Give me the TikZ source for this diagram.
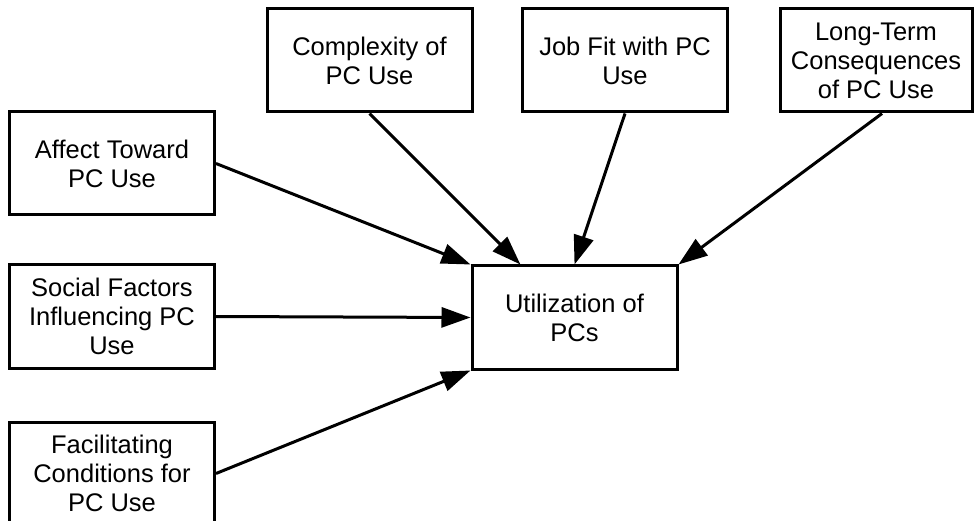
\documentclass[tikz,border=0pt]{standalone}
\usepackage{fontspec}
\setmainfont{Liberation Sans}
\usetikzlibrary{arrows.meta,calc}
\begin{document}
\begin{tikzpicture}[x=1pt,y=-1pt,
  box/.style={draw,line width=3pt,minimum width=205pt,minimum height=103pt,
    align=center,inner sep=0pt,font=\fontsize{25.5}{29}\selectfont},
  arr/.style={line width=3pt,-{Triangle[length=29pt,width=20pt]}}]
\useasboundingbox (0,0) rectangle (974,521);
\node[box] (cx) at (369.5,60.5) {Complexity of\\PC Use};
\node[box] (jf) at (625,60.5) {Job Fit with PC\\Use};
\node[box,minimum width=192pt] (lt) at (876,60.5) {Long-Term\\Consequences\\of PC Use};
\node[box] (af) at (112,163.5) {Affect Toward\\PC Use};
\node[box] (sf) at (112,316.5) {Social Factors\\Influencing PC\\Use};
\node[box] (fc) at (112,473.5) {Facilitating\\Conditions for\\PC Use};
\node[box] (ut) at (574.5,317.5) {Utilization of\\PCs};
\coordinate (ltout) at ([xshift=6pt]lt.south);
\coordinate (cxin) at ($(ut.north west)!0.24!(ut.north east)$);
\draw[arr] (af.east) -- (ut.north west);
\draw[arr] (cx.south) -- (cxin);
\draw[arr] (jf.south) -- (ut.north);
\draw[arr] (ltout) -- (ut.north east);
\draw[arr] (sf.east) -- (ut.west);
\draw[arr] (fc.east) -- (ut.south west);
\end{tikzpicture}
\end{document}
